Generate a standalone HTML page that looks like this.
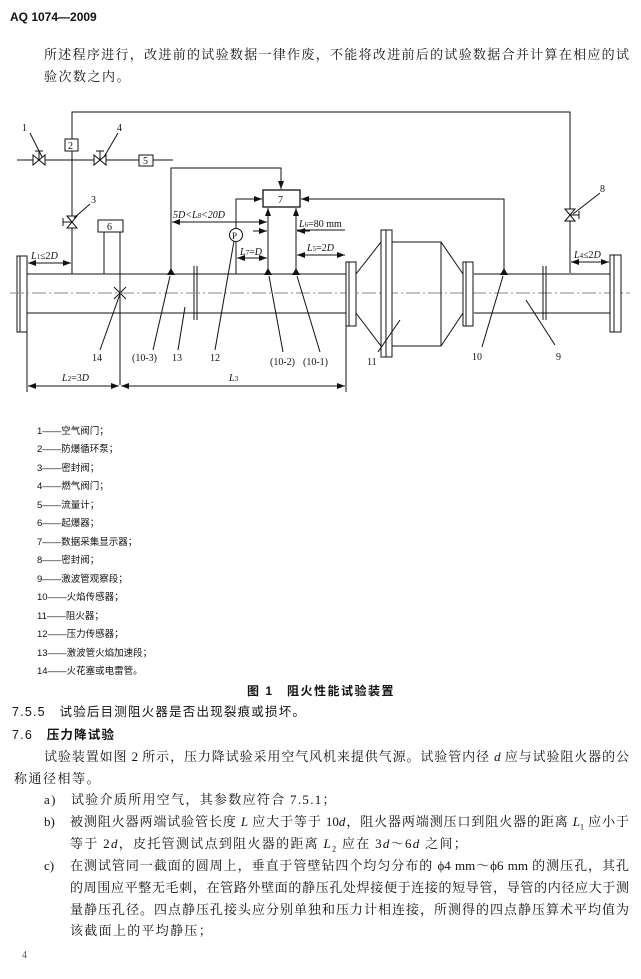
<!DOCTYPE html>
<html><head><meta charset="utf-8"><style>
body{margin:0;background:#fff;}
#p{position:relative;width:641px;height:979px;overflow:hidden;font-family:"Liberation Serif","Noto Serif CJK SC","Noto Sans CJK SC",serif;color:#111;}
.t{position:absolute;white-space:nowrap;font-size:13px;line-height:16px;}
.j{text-align:justify;text-align-last:justify;white-space:normal;}
.lg{position:absolute;left:37px;font-size:9.5px;line-height:12px;white-space:nowrap;font-family:"Liberation Sans","Noto Sans CJK SC",sans-serif;}
svg{position:absolute;left:0;top:0;}
svg text{font-family:"Liberation Serif",serif;font-size:10px;fill:#111;}
</style></head><body><div id="p">
<div class="t" style="left:10px;top:9px;font-weight:bold;font-family:'Liberation Sans',sans-serif;font-size:12px;">AQ 1074—2009</div>
<div class="t j" style="left:44px;top:47px;width:585px;">所述程序进行，改进前的试验数据一律作废，不能将改进前后的试验数据合并计算在相应的试</div>
<div class="t" style="left:44px;top:69px;letter-spacing:1.5px;">验次数之内。</div>

<svg width="641" height="420" viewBox="0 0 641 420" stroke="#111" fill="none" stroke-width="1">
<defs><marker id="a" markerWidth="8" markerHeight="6" refX="8" refY="3" orient="auto-start-reverse" markerUnits="userSpaceOnUse"><path d="M0,0 L8,3 L0,6z" fill="#111" stroke="none"/></marker></defs>
<!-- top loop -->
<polyline points="72,139 72,112 570,112 570,273"/>
<rect x="65" y="139" width="13" height="12" fill="#fff"/><text x="68" y="149" stroke="none">2</text>
<line x1="72" y1="151" x2="72" y2="274"/>
<line x1="17" y1="160" x2="173" y2="160"/>
<!-- valves -->
<path d="M33,155 L45,165 L45,155 L33,165Z" fill="#fff"/><line x1="39" y1="160" x2="39" y2="151"/><line x1="35" y1="151" x2="43" y2="151"/>
<path d="M94,155 L106,165 L106,155 L94,165Z" fill="#fff"/><line x1="100" y1="160" x2="100" y2="151"/><line x1="96" y1="151" x2="104" y2="151"/>
<path d="M67,216 L77,228 L67,228 L77,216Z" fill="#fff"/><line x1="72" y1="222" x2="63" y2="222"/><line x1="63" y1="218" x2="63" y2="226"/>
<path d="M565,209 L575,221 L565,221 L575,209Z" fill="#fff"/><line x1="570" y1="215" x2="579" y2="215"/><line x1="579" y1="211" x2="579" y2="219"/>
<rect x="139" y="155" width="14" height="11" fill="#fff"/><text x="143" y="164" stroke="none">5</text>
<line x1="42" y1="157" x2="30" y2="133"/><text x="22" y="131" stroke="none">1</text>
<line x1="104" y1="157" x2="118" y2="133"/><text x="117" y="131" stroke="none">4</text>
<line x1="74" y1="218" x2="90" y2="204"/><text x="91" y="203" stroke="none">3</text>
<line x1="573" y1="214" x2="600" y2="193"/><text x="600" y="192" stroke="none">8</text>
<!-- box 6 -->
<rect x="98" y="220" width="25" height="12" fill="#fff"/><text x="107" y="230" stroke="none">6</text>
<line x1="104" y1="232" x2="104" y2="274"/><line x1="120" y1="232" x2="120" y2="385"/>
<!-- left pipe -->
<rect x="17" y="256" width="10" height="76" fill="#fff"/><line x1="20" y1="256" x2="20" y2="332"/>
<line x1="27" y1="274" x2="346" y2="274"/><line x1="27" y1="313" x2="346" y2="313"/>
<line x1="194" y1="266" x2="194" y2="320"/><line x1="197" y1="266" x2="197" y2="320"/>
<line x1="114" y1="287" x2="126" y2="299"/><line x1="114" y1="299" x2="126" y2="287"/>
<line x1="10" y1="293" x2="630" y2="293" stroke="#888" stroke-dasharray="14,3,2,3"/>
<!-- box 7 and wiring -->
<rect x="263" y="190" width="37" height="17" fill="#fff" stroke-width="1.3"/><text x="278" y="203" stroke="none">7</text>
<polyline points="171,274 171,168 281,168 281,189" marker-end="url(#a)"/>
<polyline points="236,229 236,199 262,199" marker-end="url(#a)"/>
<circle cx="236" cy="235" r="6.5" fill="#fff"/><text x="232" y="239" stroke="none" style="font-size:9px">P</text>
<line x1="268" y1="274" x2="268" y2="208" marker-end="url(#a)"/>
<line x1="296" y1="274" x2="296" y2="208" marker-end="url(#a)"/>
<polyline points="504,274 504,199 301,199" marker-end="url(#a)"/>
<path d="M171,268 L167,275 L175,275Z M268,268 L264,275 L272,275Z M296,268 L292,275 L300,275Z M504,268 L500,275 L508,275Z" fill="#111" stroke="none"/>
<line x1="236" y1="242" x2="236" y2="274"/>
<!-- dims upper -->
<text x="173" y="218" stroke="none" font-style="italic">5<tspan font-style="italic">D</tspan>&lt;<tspan>L</tspan><tspan font-size="7">8</tspan>&lt;20D</text>
<line x1="172" y1="222" x2="267" y2="222" marker-start="url(#a)" marker-end="url(#a)"/>
<text x="299" y="227" stroke="none"><tspan font-style="italic">L</tspan><tspan font-size="7">6</tspan>=80 mm</text>
<line x1="297" y1="230" x2="345" y2="230"/>
<line x1="253" y1="231" x2="267" y2="231" marker-end="url(#a)"/><line x1="310" y1="231" x2="297" y2="231" marker-end="url(#a)"/>
<text x="240" y="255" stroke="none"><tspan font-style="italic">L</tspan><tspan font-size="7">7</tspan>=<tspan font-style="italic">D</tspan></text>
<line x1="237" y1="258" x2="267" y2="258" marker-start="url(#a)" marker-end="url(#a)"/>
<text x="307" y="251" stroke="none"><tspan font-style="italic">L</tspan><tspan font-size="7">5</tspan>=2<tspan font-style="italic">D</tspan></text>
<line x1="297" y1="255" x2="345" y2="255" marker-start="url(#a)" marker-end="url(#a)"/>
<text x="31" y="259" stroke="none"><tspan font-style="italic">L</tspan><tspan font-size="7">1</tspan>≤2<tspan font-style="italic">D</tspan></text>
<line x1="28" y1="263" x2="71" y2="263" marker-start="url(#a)" marker-end="url(#a)"/>
<text x="574" y="258" stroke="none"><tspan font-style="italic">L</tspan><tspan font-size="7">4</tspan>≤2<tspan font-style="italic">D</tspan></text>
<line x1="571" y1="262" x2="609" y2="262" marker-start="url(#a)" marker-end="url(#a)"/>
<!-- arrester -->
<rect x="346" y="262" width="10" height="64" fill="#fff"/><line x1="349" y1="262" x2="349" y2="326"/>
<polyline points="356,274 381,242 441,242 463,274"/><polyline points="356,313 381,346 441,346 463,313"/>
<line x1="441" y1="242" x2="441" y2="346"/>
<rect x="381" y="230" width="11" height="127" fill="#fff"/><line x1="386" y1="230" x2="386" y2="357"/>
<rect x="463" y="262" width="10" height="64" fill="#fff"/><line x1="466" y1="262" x2="466" y2="326"/>
<line x1="474" y1="274" x2="610" y2="274"/><line x1="474" y1="313" x2="610" y2="313"/>
<line x1="543" y1="266" x2="543" y2="320"/><line x1="546" y1="266" x2="546" y2="320"/>
<rect x="610" y="255" width="11" height="77" fill="#fff"/><line x1="614" y1="255" x2="614" y2="332"/>
<!-- leaders -->
<line x1="120" y1="294" x2="100" y2="350"/><text x="92" y="361" stroke="none">14</text>
<line x1="170" y1="276" x2="153" y2="350"/><text x="132" y="361" stroke="none">(10-3)</text>
<line x1="185" y1="307" x2="178" y2="350"/><text x="172" y="361" stroke="none">13</text>
<line x1="234" y1="241" x2="215" y2="350"/><text x="210" y="361" stroke="none">12</text>
<line x1="269" y1="276" x2="283" y2="352"/><text x="270" y="365" stroke="none">(10-2)</text>
<line x1="297" y1="276" x2="320" y2="352"/><text x="303" y="365" stroke="none">(10-1)</text>
<line x1="400" y1="320" x2="378" y2="352"/><text x="367" y="365" stroke="none">11</text>
<line x1="503" y1="276" x2="482" y2="347"/><text x="472" y="360" stroke="none">10</text>
<line x1="526" y1="300" x2="555" y2="345"/><text x="556" y="360" stroke="none">9</text>
<!-- bottom dims -->
<line x1="27" y1="332" x2="27" y2="392"/><line x1="346" y1="326" x2="346" y2="392"/>
<text x="62" y="381" stroke="none"><tspan font-style="italic">L</tspan><tspan font-size="7">2</tspan>=3<tspan font-style="italic">D</tspan></text>
<line x1="28" y1="386" x2="119" y2="386" marker-start="url(#a)" marker-end="url(#a)"/>
<text x="229" y="381" stroke="none" font-style="italic">L<tspan font-size="7" font-style="normal">3</tspan></text>
<line x1="121" y1="386" x2="345" y2="386" marker-start="url(#a)" marker-end="url(#a)"/>
</svg>

<div class="lg" style="top:426px">1——空气阀门；</div>
<div class="lg" style="top:444px">2——防爆循环泵；</div>
<div class="lg" style="top:463px">3——密封阀；</div>
<div class="lg" style="top:481px">4——燃气阀门；</div>
<div class="lg" style="top:500px">5——流量计；</div>
<div class="lg" style="top:518px">6——起爆器；</div>
<div class="lg" style="top:537px">7——数据采集显示器；</div>
<div class="lg" style="top:555px">8——密封阀；</div>
<div class="lg" style="top:574px">9——激波管观察段；</div>
<div class="lg" style="top:592px">10——火焰传感器；</div>
<div class="lg" style="top:611px">11——阻火器；</div>
<div class="lg" style="top:629px">12——压力传感器；</div>
<div class="lg" style="top:648px">13——激波管火焰加速段；</div>
<div class="lg" style="top:666px">14——火花塞或电雷管。</div>

<div class="t" style="left:247px;top:683px;font-size:12px;font-weight:bold;font-family:'Liberation Sans','Noto Sans CJK SC',sans-serif;letter-spacing:1.5px;">图 1　阻火性能试验装置</div>
<div class="t" style="left:12px;top:704px;font-size:12.5px;letter-spacing:1.2px;font-family:'Liberation Sans','Noto Sans CJK SC',sans-serif;">7.5.5　试验后目测阻火器是否出现裂痕或损坏。</div>
<div class="t" style="left:12px;top:727px;font-size:12.5px;letter-spacing:1.2px;font-family:'Liberation Sans','Noto Sans CJK SC',sans-serif;">7.6　<b>压力降试验</b></div>
<div class="t j" style="left:44px;top:749px;width:585px;">试验装置如图 2 所示，压力降试验采用空气风机来提供气源。试验管内径 <i>d</i> 应与试验阻火器的公</div>
<div class="t" style="left:14px;top:771px;letter-spacing:1.5px;">称通径相等。</div>
<div class="t" style="left:44px;top:792px;letter-spacing:1.3px;">a)　试验介质所用空气，其参数应符合 7.5.1；</div>
<div class="t" style="left:44px;top:814px;">b)</div>
<div class="t j" style="left:70px;top:814px;width:559px;">被测阻火器两端试验管长度 <i>L</i> 应大于等于 10<i>d</i>，阻火器两端测压口到阻火器的距离 <i>L</i><sub style="font-size:8px">1</sub> 应小于</div>
<div class="t" style="left:70px;top:836px;letter-spacing:1.3px;">等于 2<i>d</i>，皮托管测试点到阻火器的距离 <i>L</i><sub style="font-size:8px">2</sub> 应在 3<i>d</i>～6<i>d</i> 之间；</div>
<div class="t" style="left:44px;top:858px;">c)</div>
<div class="t j" style="left:70px;top:858px;width:559px;">在测试管同一截面的圆周上，垂直于管壁钻四个均匀分布的 ϕ4 mm～ϕ6 mm 的测压孔，其孔</div>
<div class="t j" style="left:70px;top:880px;width:559px;">的周围应平整无毛刺，在管路外壁面的静压孔处焊接便于连接的短导管，导管的内径应大于测</div>
<div class="t j" style="left:70px;top:902px;width:559px;">量静压孔径。四点静压孔接头应分别单独和压力计相连接，所测得的四点静压算术平均值为</div>
<div class="t" style="left:70px;top:923px;letter-spacing:1.3px;">该截面上的平均静压；</div>
<div class="t" style="left:22px;top:948px;font-size:10px;color:#555;">4</div>
</div></body></html>
